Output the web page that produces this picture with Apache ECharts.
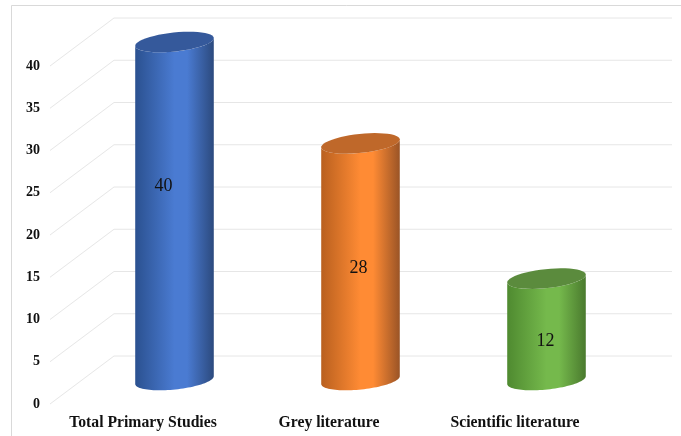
<!DOCTYPE html>
<html>
<head>
<meta charset="utf-8">
<style>html,body{margin:0;padding:0;background:#fff}#chart{width:681px;height:436px}</style>
<script src="https://cdn.jsdelivr.net/npm/echarts@6/dist/echarts.min.js"></script>
</head>
<body>
<div id="chart"></div>
<script>
const categories = ['Total Primary Studies', 'Grey literature', 'Scientific literature'];
const studyCounts = [40, 28, 12];
const tickValues = [0, 5, 10, 15, 20, 25, 30, 35, 40];

// Stops run left edge, highlight, right edge; lid is the cap colour.
const barShades = [
  { edge: '#2b5190', mid: '#4a7bd2', far: '#2c4a7e', lid: '#35599b' },
  { edge: '#b9601f', mid: '#ff8b34', far: '#9a5426', lid: '#bf682a' },
  { edge: '#4f8a30', mid: '#75b94c', far: '#4a7a2e', lid: '#5b8b3d' }
];

// Oblique projection: the floor runs from the front plane to the back wall.
const depthX = 64, depthY = 48;
const radiusX = 39.5, radiusY = 9.5, tilt = -6 * Math.PI / 180;
const valueNudge = [[-11, -25], [-2, 7], [-1, 12]];

function ellipsePoint(cx, cy, t) {
  const ex = radiusX * Math.cos(t), ey = radiusY * Math.sin(t);
  return [
    cx + ex * Math.cos(tilt) - ey * Math.sin(tilt),
    cy + ex * Math.sin(tilt) + ey * Math.cos(tilt)
  ];
}

function arc(cx, cy, from, to) {
  const pts = [];
  for (let i = 0; i <= 48; i++) {
    pts.push(ellipsePoint(cx, cy, from + (to - from) * i / 48));
  }
  return pts;
}

function renderWall(params, api) {
  const sys = params.coordSys;
  const y = api.coord([0, api.value(0)])[1];
  const backLeft = sys.x + depthX;
  const backRight = sys.x + sys.width + depthX;
  return {
    type: 'polyline',
    silent: true,
    shape: { points: [[sys.x, y], [backLeft, y - depthY], [backRight, y - depthY]] },
    style: { stroke: '#e6e6e6', lineWidth: 1, fill: null }
  };
}

function renderCylinder(params, api) {
  const i = params.dataIndex;
  const shade = barShades[i];
  const base = api.coord([i, 0]);
  const top = api.coord([i, api.value(1)]);
  const cx = base[0] + depthX / 2 - 0.5;
  const baseY = base[1] - depthY / 2;
  const topY = top[1] - depthY / 2;
  const bodyPoints = arc(cx, baseY, Math.PI, 0).concat(arc(cx, topY, 0, Math.PI));
  const bodyFill = new echarts.graphic.LinearGradient(0, 0, 1, 0, [
    { offset: 0, color: shade.edge },
    { offset: 0.5, color: shade.mid },
    { offset: 0.66, color: shade.mid },
    { offset: 1, color: shade.far }
  ]);
  return {
    type: 'group',
    children: [
      { type: 'polygon', shape: { points: bodyPoints }, style: { fill: bodyFill } },
      {
        type: 'polygon',
        shape: { points: arc(cx, topY, 0, 2 * Math.PI) },
        style: { fill: shade.lid }
      },
      {
        type: 'text',
        style: {
          x: cx + valueNudge[i][0],
          y: (baseY + topY) / 2 + valueNudge[i][1],
          text: String(api.value(1)),
          fill: '#111',
          font: '18px "Liberation Serif"',
          align: 'center',
          verticalAlign: 'middle'
        }
      }
    ]
  };
}

const chart = echarts.init(document.getElementById('chart'), null, { renderer: 'canvas' });
chart.setOption({
  animation: false,
  backgroundColor: '#fff',
  grid: { left: 50, right: 73, top: 66, bottom: 32, containLabel: false },
  xAxis: {
    type: 'category',
    data: categories,
    axisLine: { show: false },
    axisTick: { show: false },
    axisLabel: {
      interval: 0,
      hideOverlap: false,
      margin: 11,
      color: '#111',
      fontFamily: 'Liberation Serif',
      fontWeight: 'bold',
      fontSize: 15.7
    }
  },
  yAxis: {
    type: 'value',
    min: 0,
    max: 40,
    interval: 5,
    axisLine: { show: false },
    axisTick: { show: false },
    splitLine: { show: false },
    axisLabel: {
      margin: 10,
      color: '#111',
      fontFamily: 'Liberation Serif',
      fontWeight: 'bold',
      fontSize: 14
    }
  },
  graphic: [{
    type: 'polyline',
    silent: true,
    shape: { points: [[11.5, 436], [11.5, 5.5], [681, 5.5]] },
    style: { fill: null, stroke: '#d9d9d9', lineWidth: 1 }
  }],
  series: [
    {
      type: 'custom',
      name: 'Wall',
      coordinateSystem: 'cartesian2d',
      renderItem: renderWall,
      encode: { y: 0 },
      data: tickValues.map(v => [v]),
      z: 1
    },
    {
      type: 'custom',
      name: 'Studies',
      coordinateSystem: 'cartesian2d',
      renderItem: renderCylinder,
      encode: { x: 0, y: 1 },
      data: studyCounts.map((v, i) => [i, v]),
      z: 2
    }
  ]
});
</script>
</body>
</html>
